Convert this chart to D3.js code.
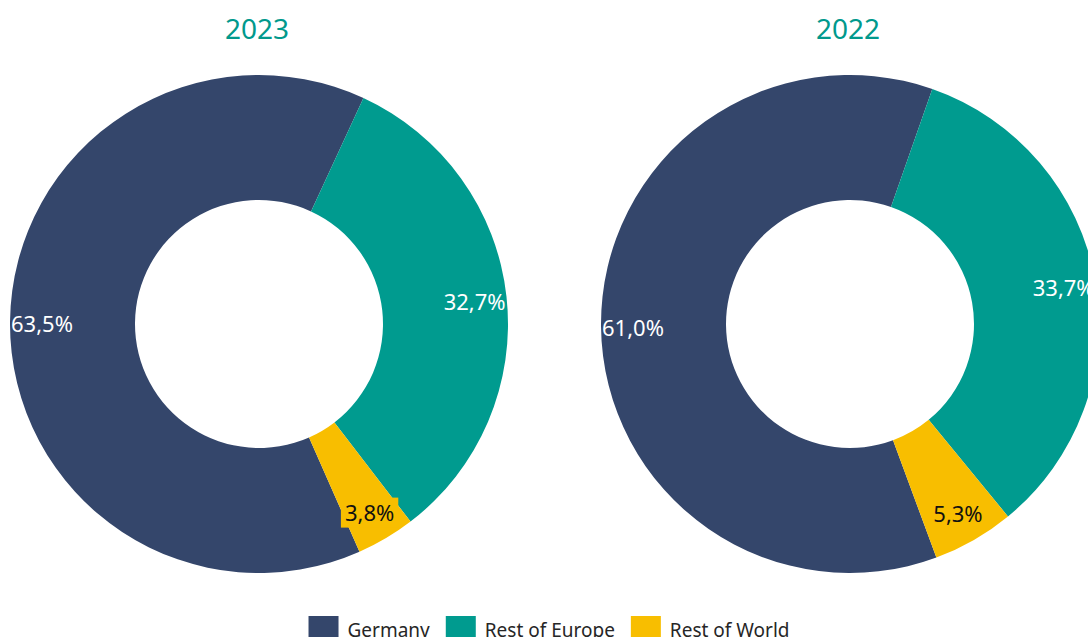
<!DOCTYPE html>
<html>
<head>
<meta charset="utf-8">
<script src="https://cdn.jsdelivr.net/npm/d3@7"></script>
<style>
    body { margin: 0; background: #ffffff; overflow: hidden; }
    svg { display: block; }
    .title { font-family: "Noto Sans", sans-serif; font-size: 28px; fill: #00998c; }
    .slice-label { font-family: "Noto Sans", sans-serif; font-size: 22px; }
    .legend-label { font-family: "Noto Sans", sans-serif; font-size: 19px; fill: #262626; }
</style>
</head>
<body>
<div id="chart"></div>
<script>
// ---------- data ----------
const categories = ["Germany", "Rest of Europe", "Rest of World"];
const years = ["2023", "2022"];
const shares2023 = [63.5, 32.7, 3.8];
const shares2022 = [61.0, 33.7, 5.3];
const firstSliceDeg = [156.2, 159.7];   // where the Germany slice starts (clockwise from 12 o'clock)

const sharesByYear = [shares2023, shares2022];

// ---------- layout ----------
const width = 1088;
const height = 637;
const outerR = 249;
const innerR = 124;
const labelR = 217;
const centerY = 324;

const colors = ["#34466b", "#009b8f", "#f8be00"];
const labelColors = ["#ffffff", "#ffffff", "#111111"];

const colorScale = d3.scaleOrdinal().domain(categories).range(colors);
const labelColorScale = d3.scaleOrdinal().domain(categories).range(labelColors);

// x position of each donut
const xScale = d3.scalePoint().domain(years).range([259, 850]);

const fmt = v => d3.format(".1f")(v).replace(".", ",") + "%";

const svg = d3.select("#chart")
    .append("svg")
    .attr("width", width)
    .attr("height", height);

const arc = d3.arc().innerRadius(innerR).outerRadius(outerR);
const labelArc = d3.arc().innerRadius(labelR).outerRadius(labelR);

years.forEach((year, i) => {
    const start = firstSliceDeg[i] * Math.PI / 180;
    const pie = d3.pie()
        .sort(null)
        .value(d => d.value)
        .startAngle(start)
        .endAngle(start + 2 * Math.PI);

    const rows = categories.map((c, k) => ({ category: c, value: sharesByYear[i][k] }));
    const arcs = pie(rows);

    const g = svg.append("g")
        .attr("transform", `translate(${xScale(year)}, ${centerY})`);

    // title
    svg.append("text")
        .attr("class", "title")
        .attr("x", xScale(year) - 2)
        .attr("y", 39)
        .attr("text-anchor", "middle")
        .text(year);

    // slices
    g.selectAll("path")
        .data(arcs)
        .join("path")
        .attr("d", arc)
        .attr("fill", d => colorScale(d.data.category));

    // labels
    const labels = g.selectAll("g.lbl")
        .data(arcs)
        .join("g")
        .attr("class", "lbl")
        .attr("transform", d => `translate(${labelArc.centroid(d)})`);

    labels.append("text")
        .attr("class", "slice-label")
        .attr("text-anchor", "middle")
        .attr("dy", "0.45em")
        .attr("fill", d => labelColorScale(d.data.category))
        .text(d => fmt(d.data.value));

    // filled box behind the small-slice label (as in the source chart)
    labels.filter(d => d.data.category === "Rest of World")
        .each(function(d) {
            const t = d3.select(this).select("text");
            const bb = t.node().getBBox();
            d3.select(this).insert("rect", "text")
                .attr("x", bb.x - 4)
                .attr("y", bb.y + 1)
                .attr("width", bb.width + 8)
                .attr("height", bb.height)
                .attr("fill", colorScale(d.data.category));
        });
});

// ---------- legend ----------
const legend = svg.append("g");
const keyW = 30;
const keyH = 24;
let cursor = 0;
categories.forEach(c => {
    const item = legend.append("g").attr("transform", `translate(${cursor}, 0)`);
    item.append("rect")
        .attr("x", 0)
        .attr("y", 616)
        .attr("width", keyW)
        .attr("height", keyH)
        .attr("fill", colorScale(c));
    const t = item.append("text")
        .attr("class", "legend-label")
        .attr("x", keyW + 9)
        .attr("y", 637)
        .text(c);
    cursor += keyW + 9 + t.node().getComputedTextLength() + 16;
});
const legendW = cursor - 16;
legend.attr("transform", `translate(${549 - legendW / 2}, 0)`);
</script>
</body>
</html>
